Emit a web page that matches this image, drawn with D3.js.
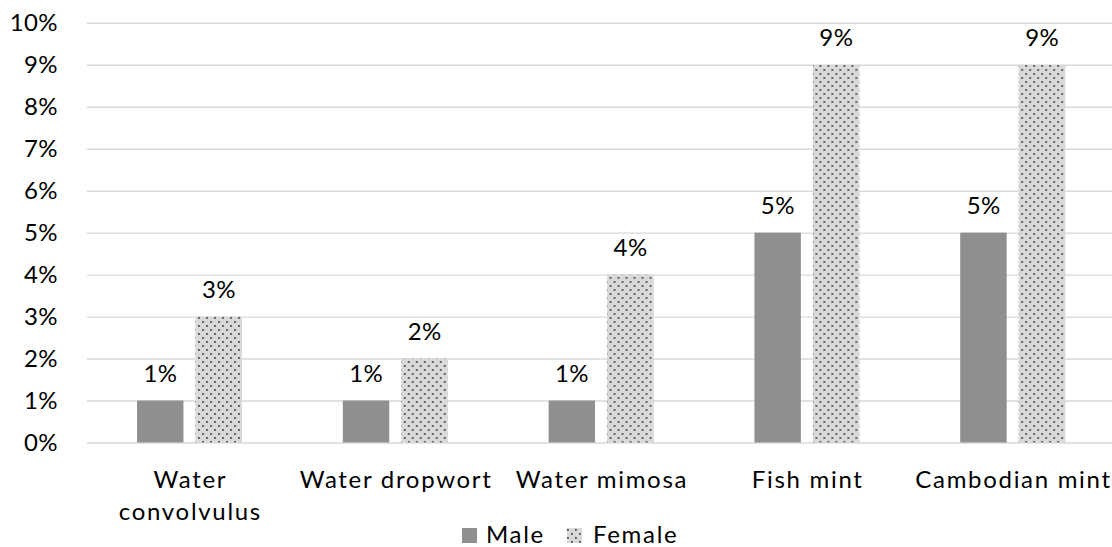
<!DOCTYPE html>
<html>
<head>
<meta charset="utf-8">
<script src="https://cdn.jsdelivr.net/npm/d3@7"></script>
<style>
  html, body { margin: 0; padding: 0; background: #fff; }
  svg { display: block; font-family: Lato, "Open Sans", sans-serif; }
</style>
</head>
<body>
<svg id="chart" width="1112" height="547"></svg>
<script>
// Herb consumption share by gender
const categories = ["Water convolvulus", "Water dropwort", "Water mimosa", "Fish mint", "Cambodian mint"];
const seriesNames = ["Male", "Female"];
const maleValues = [0.01, 0.01, 0.01, 0.05, 0.05];
const femaleValues = [0.03, 0.02, 0.04, 0.09, 0.09];
const yTicks = [0, 0.01, 0.02, 0.03, 0.04, 0.05, 0.06, 0.07, 0.08, 0.09, 0.10];

const W = 1112, H = 547;
const fontSize = 24;
const wordSpacing = 1.7;   // letter spacing for word labels
const numSpacing = 0.4;    // letter spacing for percentages
const svg = d3.select("#chart");

const defs = svg.append("defs");
const pat = defs.append("pattern")
  .attr("id", "dots")
  .attr("patternUnits", "userSpaceOnUse")
  .attr("width", 8).attr("height", 8);
pat.append("rect").attr("width", 8).attr("height", 8).attr("fill", "#d9d9d9");
pat.append("rect").attr("x", 1).attr("y", 1).attr("width", 1.8).attr("height", 1.8).attr("fill", "#4d4d4d");
pat.append("rect").attr("x", 5).attr("y", 5).attr("width", 1.8).attr("height", 1.8).attr("fill", "#4d4d4d");

const colors = { Male: "#8f8f8f", Female: "url(#dots)" };

const x0 = d3.scaleBand().domain(categories).range([86.6, 1115.6])
  .paddingInner(0.49).paddingOuter(0.245);
const x1 = d3.scaleBand().domain(seriesNames).range([0, x0.bandwidth()])
  .paddingInner(0.207).paddingOuter(0);
const y = d3.scaleLinear().domain([0, 0.10]).range([442.5, 22.8]);

// gridlines and percentage tick labels
const yAxis = d3.axisLeft(y).tickValues(yTicks).tickFormat(d3.format(".0%"))
  .tickSize(-(W - 87)).tickPadding(29);
const gy = svg.append("g").attr("transform", "translate(87,0)").call(yAxis);
gy.select(".domain").remove();
gy.selectAll(".tick line").attr("stroke", "#d9d9d9").attr("stroke-width", 1.4);
gy.selectAll(".tick text")
  .attr("fill", "#000").attr("font-size", fontSize).attr("font-family", "Lato")
  .attr("letter-spacing", numSpacing);

const rows = categories.map((c, i) => ({ cat: c, Male: maleValues[i], Female: femaleValues[i] }));

const groups = svg.append("g").selectAll("g").data(rows).join("g")
  .attr("transform", d => `translate(${x0(d.cat)},0)`);

const bars = groups.selectAll("g.bar")
  .data(d => seriesNames.map(s => ({ key: s, value: d[s] })))
  .join("g").attr("class", "bar");

bars.append("rect")
  .attr("x", d => x1(d.key))
  .attr("y", d => y(d.value))
  .attr("width", x1.bandwidth())
  .attr("height", d => y(0) - y(d.value))
  .attr("fill", d => colors[d.key]);

bars.append("text")
  .attr("x", d => x1(d.key) + x1.bandwidth() / 2 + numSpacing / 2)
  .attr("y", d => y(d.value) - 19)
  .attr("text-anchor", "middle")
  .attr("font-size", fontSize)
  .attr("letter-spacing", numSpacing)
  .attr("fill", "#000")
  .text(d => d3.format(".0%")(d.value));

// category labels, wrapped to the band step
const step = x0.step();
const catLabels = svg.append("g").selectAll("text").data(categories).join("text")
  .attr("x", d => x0(d) + x0.bandwidth() / 2 + wordSpacing / 2)
  .attr("y", 488)
  .attr("text-anchor", "middle")
  .attr("font-size", fontSize)
  .attr("letter-spacing", wordSpacing)
  .attr("fill", "#000");

catLabels.each(function (d) {
  const t = d3.select(this);
  const words = d.split(" ");
  let line = [];
  let tspan = t.append("tspan").attr("x", t.attr("x")).attr("dy", 0);
  words.forEach(w => {
    line.push(w);
    tspan.text(line.join(" "));
    if (tspan.node().getComputedTextLength() > step && line.length > 1) {
      line.pop();
      tspan.text(line.join(" "));
      line = [w];
      tspan = t.append("tspan").attr("x", t.attr("x")).attr("dy", 32).text(w);
    }
  });
});

// legend
const legend = svg.append("g").attr("transform", "translate(462,528)");
const items = [
  { key: "Male", x: 0, tx: 24 },
  { key: "Female", x: 105, tx: 131 }
];
legend.selectAll("rect").data(items).join("rect")
  .attr("x", d => d.x).attr("y", 0)
  .attr("width", 15).attr("height", 15)
  .attr("fill", d => colors[d.key]);
legend.selectAll("text").data(items).join("text")
  .attr("x", d => d.tx).attr("y", 15)
  .attr("font-size", fontSize).attr("letter-spacing", wordSpacing).attr("fill", "#000")
  .text(d => d.key);
</script>
</body>
</html>
